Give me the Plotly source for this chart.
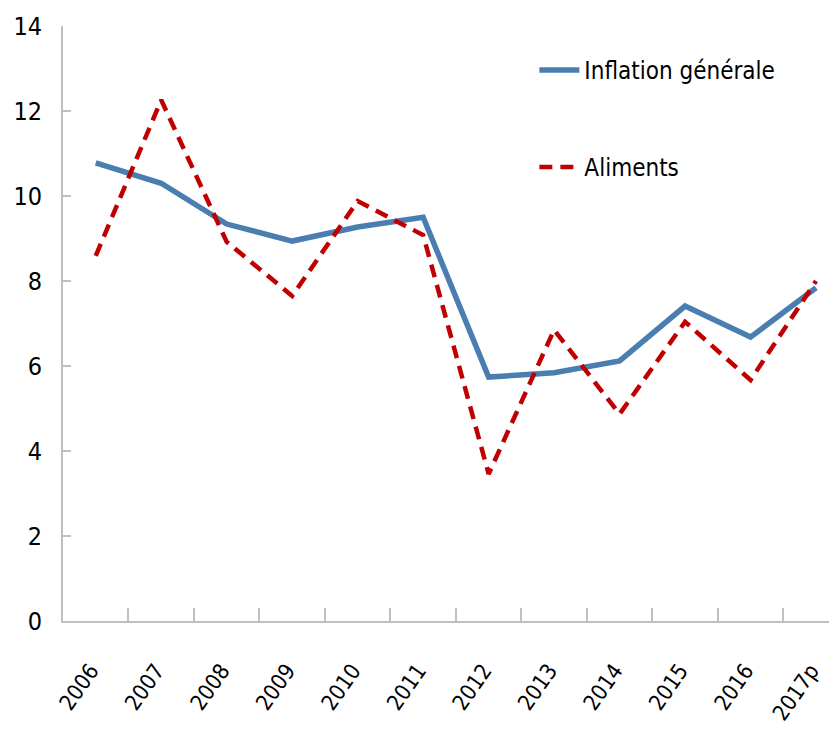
import plotly.graph_objects as go

years = ["2006", "2007", "2008", "2009", "2010", "2011", "2012", "2013", "2014", "2015", "2016", "2017p"]
inflation = [10.78, 10.30, 9.34, 8.94, 9.27, 9.50, 5.74, 5.84, 6.12, 7.41, 6.68, 7.84]
aliments = [8.59, 12.26, 8.92, 7.65, 9.88, 9.08, 3.46, 6.85, 4.87, 7.04, 5.67, 8.00]
y_ticks = [0, 2, 4, 6, 8, 10, 12, 14]

FONT = "DejaVu Sans Condensed, Liberation Sans Narrow, sans-serif"
AXIS_COLOR = "#BFBFBF"

fig = go.Figure()
fig.add_trace(go.Scatter(
    x=years, y=inflation, mode="lines", name="Inflation générale",
    line=dict(color="#4A7EB0", width=5.5), legend="legend", showlegend=True,
))
fig.add_trace(go.Scatter(
    x=years, y=aliments, mode="lines", name="Aliments",
    line=dict(color="#C00000", width=4.5, dash="13px,8px"), legend="legend2", showlegend=True,
))

fig.update_layout(
    width=829, height=724,
    margin=dict(l=55, r=0, t=18, b=111),
    paper_bgcolor="white", plot_bgcolor="white",
    showlegend=True,
    font=dict(family=FONT, size=24, color="black"),
    legend=dict(x=0.609, y=0.963, xanchor="left", yanchor="top",
                font=dict(family=FONT, size=24, color="black"),
                bgcolor="rgba(0,0,0,0)", itemwidth=40, visible=True),
    legend2=dict(x=0.609, y=0.80, xanchor="left", yanchor="top",
                 font=dict(family=FONT, size=24, color="black"),
                 bgcolor="rgba(0,0,0,0)", itemwidth=40, visible=True),
    xaxis=dict(
        type="category", range=[-0.5, 11.32], automargin=False,
        showline=True, linecolor=AXIS_COLOR, linewidth=2,
        ticks="inside", tickson="boundaries", ticklen=13, tickcolor=AXIS_COLOR, tickwidth=1.5,
        tickangle=-55, showgrid=False, zeroline=False, ticklabelstandoff=26,
        ticklabelshift=-5,
        tickfont=dict(family=FONT, size=22, color="black"),
    ),
    yaxis=dict(
        range=[0, 14], tickvals=y_ticks, automargin=False,
        showline=True, linecolor=AXIS_COLOR, linewidth=2,
        ticks="inside", ticklen=8, tickcolor=AXIS_COLOR, tickwidth=1.5,
        showgrid=False, zeroline=False, ticklabelstandoff=14,
        tickfont=dict(family=FONT, size=25, color="black"),
    ),
)

fig.write_html("out.html")
